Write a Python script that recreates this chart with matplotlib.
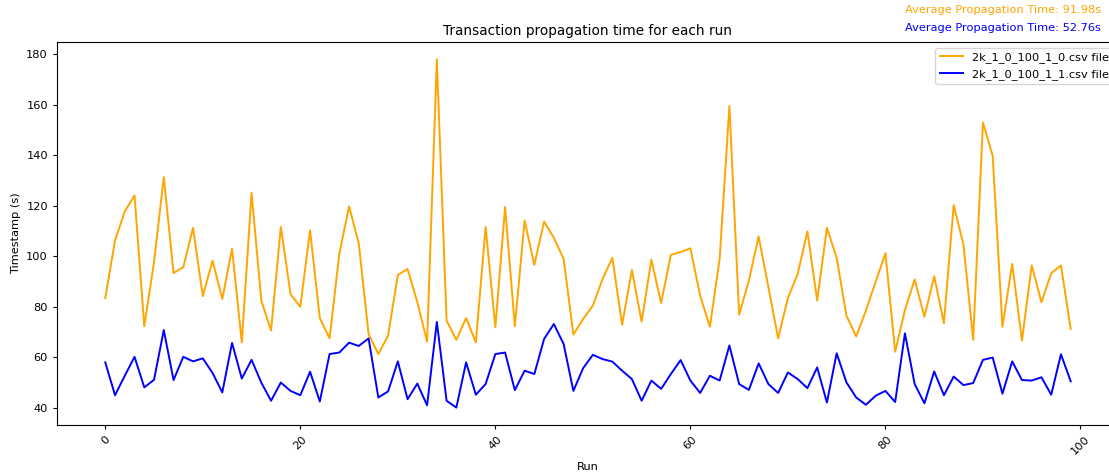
import numpy as np
import matplotlib
matplotlib.use("Agg")
import matplotlib.pyplot as plt

# propagation time per run (s)
times_0 = [83.5, 106.3, 117.8, 124.1, 72.3, 97.7, 131.4, 93.4, 95.7, 111.3,
           84.2, 98.3, 83.1, 103.0, 65.9, 125.2, 82.5, 70.6, 111.6, 85.0,
           80.0, 110.3, 75.5, 67.5, 101.0, 119.8, 105.0, 69.2, 61.3, 68.6,
           92.6, 95.0, 81.8, 66.2, 178.0, 74.5, 66.9, 75.6, 65.9, 111.6,
           71.9, 119.5, 72.3, 114.2, 96.6, 113.8, 107.3, 99.0, 69.0, 75.2,
           80.5, 91.1, 99.4, 72.9, 94.6, 74.1, 98.7, 81.5, 100.6, 101.7,
           103.2, 84.4, 72.1, 99.0, 159.5, 76.9, 90.4, 107.9, 87.8, 67.5,
           83.5, 93.0, 109.9, 82.5, 111.3, 99.4, 76.5, 68.3, 78.5, 90.0,
           101.2, 62.2, 78.8, 90.8, 76.1, 92.1, 73.5, 120.3, 104.7, 66.9,
           153.0, 139.8, 72.1, 97.0, 66.6, 96.4, 81.8, 93.3, 96.4, 71.2]

times_1 = [58.0, 45.0, 52.7, 60.2, 48.1, 51.1, 70.8, 51.0, 60.2, 58.4,
           59.6, 53.8, 46.1, 65.7, 51.6, 59.0, 50.0, 42.8, 50.0, 46.7,
           45.0, 54.3, 42.5, 61.3, 61.9, 65.8, 64.5, 67.5, 44.1, 46.5,
           58.4, 43.4, 49.6, 41.0, 74.0, 42.8, 40.1, 58.0, 45.2, 49.4,
           61.3, 61.9, 47.0, 54.7, 53.4, 67.3, 73.2, 65.3, 46.7, 55.7,
           61.0, 59.3, 58.3, 54.7, 51.4, 42.8, 50.8, 47.5, 53.4, 58.9,
           50.8, 45.9, 52.7, 50.8, 64.7, 49.4, 47.1, 57.6, 49.4, 45.9,
           54.0, 51.4, 47.8, 56.0, 42.1, 61.6, 50.1, 44.1, 41.2, 44.8,
           46.7, 42.3, 69.5, 49.4, 41.8, 54.4, 45.0, 52.4, 49.0, 49.8,
           59.0, 59.9, 45.6, 58.4, 51.0, 50.8, 52.1, 45.2, 61.2, 50.5]

labels = ["2k_1_0_100_1_0.csv file", "2k_1_0_100_1_1.csv file"]
colors = ["orange", "blue"]
avg_texts = ["Average Propagation Time: 91.98s", "Average Propagation Time: 52.76s"]

runs = np.arange(len(times_0))

# the reference was rendered a bit small, so shrink the default text
plt.rcParams["font.size"] = 8.2
plt.rcParams["axes.titlesize"] = 9.8
plt.rcParams["xtick.major.size"] = 3.0
plt.rcParams["ytick.major.size"] = 3.0

fig = plt.figure(figsize=(11.09, 4.75), dpi=100)
ax = fig.add_axes([0.0514, 0.1053, 0.9576, 0.8063])

for series, label, color in zip([times_0, times_1], labels, colors):
    ax.plot(runs, series, label=label, color=color, linewidth=1.4)

ax.set_title("Transaction propagation time for each run", pad=5)
ax.set_xlabel("Run")
ax.set_ylabel("Timestamp (s)")
ax.tick_params(axis="x", labelrotation=45)
ax.legend(loc="upper right")

for k, (txt, color) in enumerate(zip(avg_texts, colors)):
    fig.text(0.9928, 0.979 - k * 0.038, txt, color=color,
             ha="right", va="center", fontsize=8.2)

fig.savefig("out.png", dpi=100)
